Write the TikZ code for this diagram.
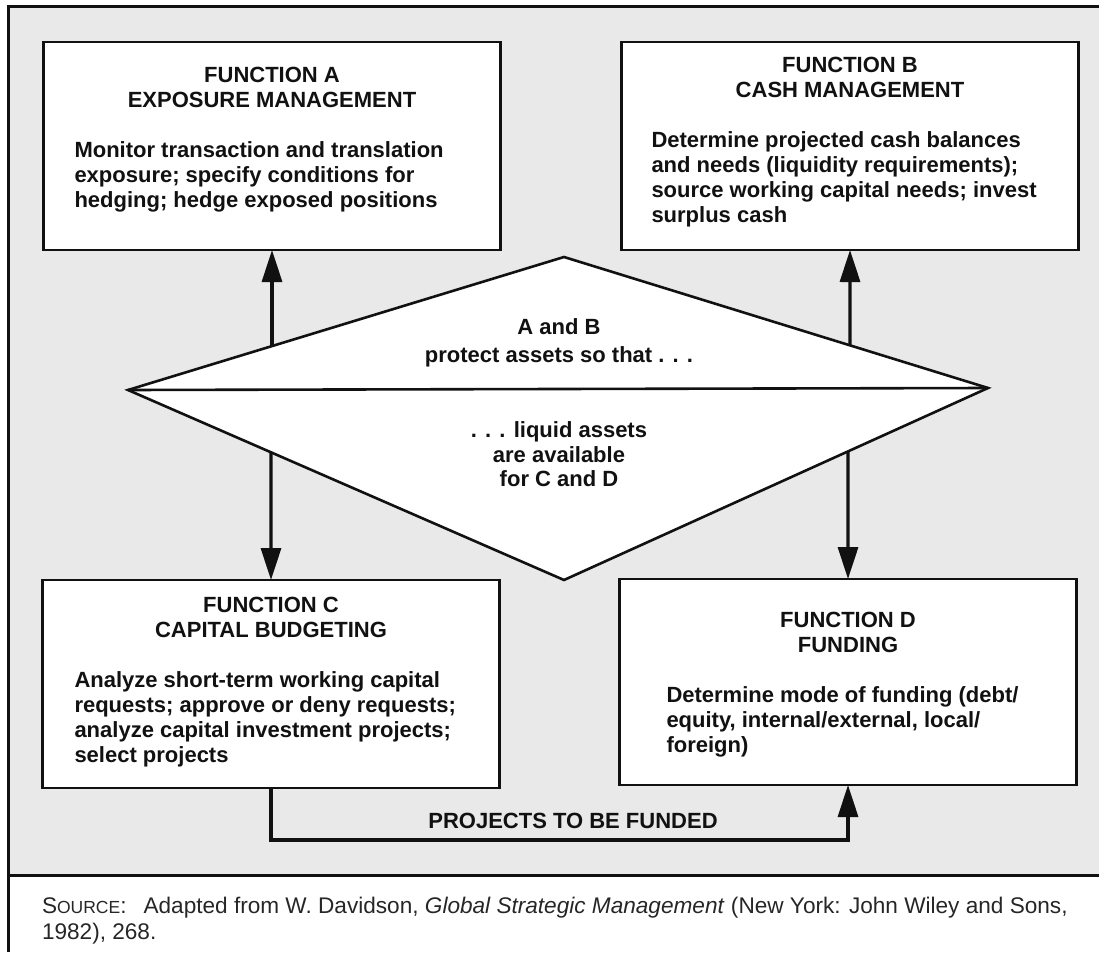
\documentclass[tikz,border=0pt]{standalone}
\usepackage{fontspec}
\setsansfont{Liberation Sans}
\usetikzlibrary{arrows.meta, positioning, calc}
\definecolor{panelgray}{HTML}{E9E9E9}
\definecolor{inkblack}{HTML}{111111}
\definecolor{sourceink}{HTML}{262626}
\newcommand{\fakesc}[2]{#1{\fontsize{17.5}{17.5}\selectfont #2}}

\begin{document}
\begin{tikzpicture}[
    x=1pt, y=-1pt,
    >=Triangle,
    font=\sffamily,
    every node/.style={inner sep=0pt, outer sep=0pt},
    fnbox/.style={
        draw=inkblack, line width=2.6pt, fill=white,
        minimum width=457pt, minimum height=208pt
    },
    fntitle/.style={
        font=\sffamily\bfseries\fontsize{22}{25}\selectfont,
        text=inkblack, align=center
    },
    fnbody/.style={
        font=\sffamily\bfseries\fontsize{22}{25}\selectfont,
        text=inkblack, align=left
    },
    dtext/.style={
        font=\sffamily\bfseries\fontsize{22}{25}\selectfont,
        text=inkblack, align=center
    },
    framerule/.style={draw=inkblack, line width=3pt},
    diamondrule/.style={draw=inkblack, line width=2.6pt},
    flowarrow/.style={->, draw=inkblack, line width=3.2pt,
        >={Triangle[length=32pt, width=20pt]}},
    flowlabel/.style={font=\sffamily\bfseries\fontsize{22}{25}\selectfont, text=inkblack},
    sourcetext/.style={font=\sffamily\fontsize{22.6}{26}\selectfont, text=sourceink},
]

% ============ panel and frame ============
\useasboundingbox (0,0) rectangle (1099,952);
\fill[panelgray] (8,7) rectangle (1099,875);
\draw[framerule] (1099,7) -- (8,7) -- (8,952);
\draw[framerule] (8,875) -- (1099,875);

% ============ central diamond ============
\coordinate (dtop) at (564,257);
\coordinate (dleft) at (128,390);
\coordinate (dright) at (988,388);
\coordinate (dbot) at (564,580);
\draw[diamondrule, fill=white] (dtop) -- (dright) -- (dbot) -- (dleft) -- cycle;
\draw[diamondrule] (dleft) -- (dright);

\node[dtext, anchor=north, font=\sffamily\bfseries\fontsize{22}{27.5}\selectfont] (dupper) at (559,319) {A and B\\protect assets so that . . .};
\node[dtext, anchor=north, font=\sffamily\bfseries\fontsize{22}{24.5}\selectfont] (dlower) at (559,422) {. . . liquid assets\\are available\\for C and D};

% ============ function boxes ============
% Function A
\node[fnbox] (fa) at (272,146) {};
\node[fntitle, below=25pt of fa.north] (fatitle) {FUNCTION A\\EXPOSURE MANAGEMENT};
\node[fnbody, anchor=north west] (fabody) at ($(fa.west |- fatitle.south)+(31,34)$)
    {Monitor transaction and translation\\exposure; specify conditions for\\hedging; hedge exposed positions};

% Function B
\node[fnbox] (fb) at (850,146) {};
\node[fntitle, below=15pt of fb.north] (fbtitle) {FUNCTION B\\CASH MANAGEMENT};
\node[fnbody, anchor=north west] (fbbody) at ($(fb.west |- fbtitle.south)+(30,34)$)
    {Determine projected cash balances\\and needs (liquidity requirements);\\source working capital needs; invest\\surplus cash};

% Function C
\node[fnbox] (fc) at (271,684) {};
\node[fntitle, below=17pt of fc.north] (fctitle) {FUNCTION C\\CAPITAL BUDGETING};
\node[fnbody, anchor=north west] (fcbody) at ($(fc.west |- fctitle.south)+(32,34)$)
    {Analyze short-term working capital\\requests; approve or deny requests;\\analyze capital investment projects;\\select projects};

% Function D
\node[fnbox, minimum height=206pt] (fd) at (848,682) {};
\node[fntitle, below=33pt of fd.north] (fdtitle) {FUNCTION D\\FUNDING};
\node[fnbody, anchor=north west] (fdbody) at ($(fd.west |- fdtitle.south)+(47,34)$)
    {Determine mode of funding (debt/\\equity, internal/external, local/\\foreign)};

% ============ arrows from the diamond ============
\coordinate (aup) at (intersection of dleft--dtop and fa.south--fa.north);
\coordinate (bup) at (intersection of dtop--dright and fb.south--fb.north);
\coordinate (cdown) at (intersection of dleft--dbot and fc.north--fc.south);
\coordinate (ddown) at (intersection of dbot--dright and fd.north--fd.south);
\draw[flowarrow] (aup) -- (fa.south);
\draw[flowarrow] (bup) -- (fb.south);
\draw[flowarrow] (cdown) -- (fc.north);
\draw[flowarrow] (ddown) -- (fd.north);

% ============ projects to be funded ============
\coordinate (fundturn) at (fd.south |- 0,840);
\draw[flowarrow] (fc.south) |- (fundturn) -- (fd.south);
\node[flowlabel, anchor=base] (projlabel) at (573,828) {PROJECTS TO BE FUNDED};

% ============ source note ============
\node[sourcetext, anchor=base west] (srcline) at (42,913)
    {\fakesc{S}{OURCE}:\hspace{17pt}Adapted from W. Davidson, \textit{Global Strategic Management} (New York: John Wiley and Sons,};
\node[sourcetext, anchor=base west] (srcyear) at (42,939) {1982), 268.};

\end{tikzpicture}
\end{document}
